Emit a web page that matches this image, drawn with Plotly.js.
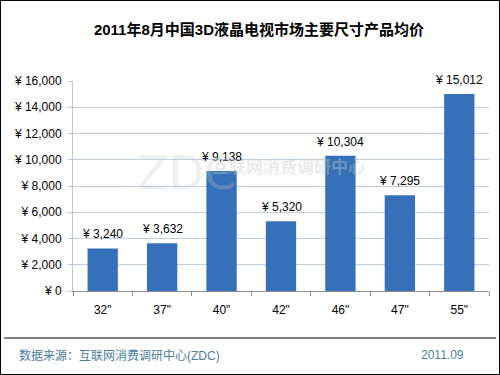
<!DOCTYPE html>
<html>
<head>
<meta charset="utf-8">
<script src="https://cdn.plot.ly/plotly-3.0.1.min.js"></script>
<style>
html,body{margin:0;padding:0;background:#fff;}
#chart{width:498px;height:373px;border:1px solid #000;}
</style>
</head>
<body>
<div id="chart"></div>
<script>
const categories = ['32"', '37"', '40"', '42"', '46"', '47"', '55"'];
const prices = [3240, 3632, 9138, 5320, 10304, 7295, 15012];
const yTicks = [0, 2000, 4000, 6000, 8000, 10000, 12000, 14000, 16000];
const titleText = '2011年8月中国3D液晶电视市场主要尺寸产品均价';
const sourceText = '数据来源：互联网消费调研中心(ZDC)';
const dateText = '2011.09';

const FONT = 'Liberation Sans, Arial, "Noto Sans CJK SC", sans-serif';

function fmt(v){ return '¥ ' + v.toLocaleString('en-US'); }

const trace = {
  type: 'bar',
  x: categories,
  y: prices,
  width: 0.51,
  marker: {color: '#3570b8', line: {width: 0}},
  hoverinfo: 'skip'
};

const annotations = categories.map((c, i) => ({
  x: c, y: prices[i], xref: 'x', yref: 'y',
  text: fmt(prices[i]), showarrow: false,
  yanchor: 'bottom', yshift: 5,
  font: {family: FONT, size: 12, color: '#000'}
}));

// watermark
annotations.push({
  xref: 'paper', yref: 'paper', x: 0.15, y: 0.56, xanchor: 'left', yanchor: 'middle',
  text: 'ZDC', showarrow: false,
  font: {family: 'DejaVu Sans, sans-serif', size: 46, color: 'rgba(200,200,200,0.3)'}
});
annotations.push({
  xref: 'paper', yref: 'paper', x: 0.33, y: 0.6, xanchor: 'left', yanchor: 'middle',
  text: '<b>互联网消费调研中心</b>', showarrow: false,
  font: {family: '"Noto Sans CJK SC", sans-serif', size: 17, color: 'rgba(200,200,200,0.4)'}
});
// footer
annotations.push({
  xref: 'paper', yref: 'paper', x: -0.1346, y: -0.305, xanchor: 'left', yanchor: 'middle',
  text: sourceText, showarrow: false,
  font: {family: FONT, size: 12, color: '#4b7d9c'}
});
annotations.push({
  xref: 'paper', yref: 'paper', x: 0.9447, y: -0.305, xanchor: 'right', yanchor: 'middle',
  text: dateText, showarrow: false,
  font: {family: FONT, size: 12, color: '#4b7d9c'}
});

const layout = {
  width: 498, height: 373,
  margin: {l: 72, r: 10, t: 80, b: 83, pad: 0},
  paper_bgcolor: '#fff', plot_bgcolor: '#fff',
  showlegend: false,
  bargap: 0.49,
  title: {
    text: '<b>' + titleText + '</b>',
    x: 0.518, xref: 'container', xanchor: 'center',
    y: 0.922, yref: 'container', yanchor: 'middle',
    font: {family: FONT, size: 15, color: '#000'}
  },
  xaxis: {
    type: 'category',
    showline: true, linecolor: '#8c8c8c', linewidth: 1,
    ticks: 'outside', tickson: 'boundaries', ticklen: 4, tickcolor: '#8c8c8c',
    ticklabelstandoff: 8,
    tickfont: {family: FONT, size: 12, color: '#000'},
    showgrid: false, zeroline: false, fixedrange: true
  },
  yaxis: {
    range: [0, 16000],
    tickvals: yTicks,
    ticktext: yTicks.map(fmt),
    showline: true, linecolor: '#b8c7de', linewidth: 1,
    ticks: 'outside', ticklen: 4, tickcolor: '#b8c7de',
    ticklabelstandoff: 4,
    gridcolor: '#bccdea', gridwidth: 1,
    zeroline: false,
    tickfont: {family: FONT, size: 12, color: '#000'},
    fixedrange: true
  },
  shapes: [{
    type: 'line', xref: 'paper', yref: 'paper',
    x0: -0.1659, x1: 1.0168, y0: -0.2238, y1: -0.2238,
    line: {color: '#000', width: 1}
  }],
  annotations: annotations
};

Plotly.newPlot('chart', [trace], layout, {displayModeBar: false, staticPlot: true});
</script>
</body>
</html>
